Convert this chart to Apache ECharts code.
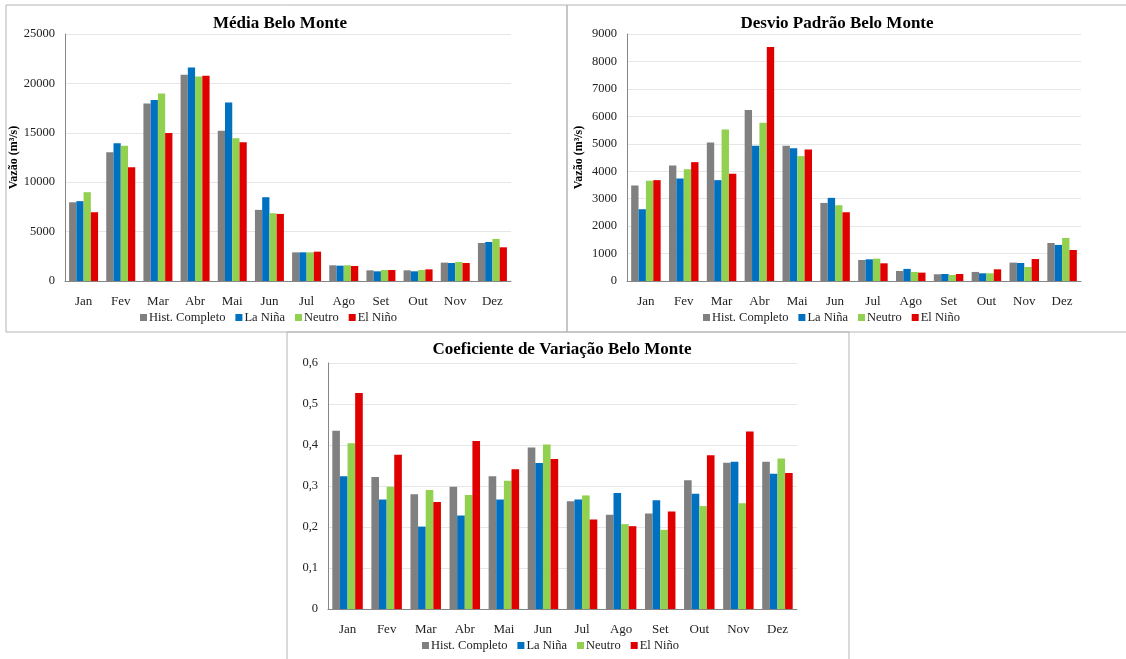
<!DOCTYPE html>
<html>
  <head>
    <meta charset="utf-8">
    <title>Belo Monte</title>
    <style type="text/css">
    html,body{margin:0;padding:0;background:#fff;}
    #chart{width:1126px;height:659px;}
    </style>
    <script src="https://cdn.jsdelivr.net/npm/echarts@6/dist/echarts.min.js"></script>
  </head>
  <body>
    <div id="chart"></div>
    <script type="text/javascript">
      var meses = ['Jan','Fev','Mar','Abr','Mai','Jun','Jul','Ago','Set','Out','Nov','Dez'];
      var nomes = ['Hist. Completo','La Niña','Neutro','El Niño'];
      var cores = ['#808080','#0070c0','#92d050','#e00000'];

      // Média (m³/s)
      var mediaHist   = [7970,13040,17970,20880,15200,7200,2900,1590,1080,1080,1860,3850];
      var mediaNina   = [8080,13950,18310,21620,18070,8480,2900,1550,980,980,1820,3950];
      var mediaNeutro = [8990,13680,18990,20710,14460,6860,2900,1590,1110,1110,1930,4260];
      var mediaNino   = [6960,11520,14970,20780,14050,6790,2970,1520,1110,1180,1820,3410];

      // Desvio padrão (m³/s)
      var dpHist   = [3480,4210,5050,6230,4930,2845,765,365,245,330,670,1385];
      var dpNina   = [2615,3735,3675,4930,4840,3030,790,440,255,280,655,1315];
      var dpNeutro = [3650,4075,5520,5765,4550,2760,815,330,220,280,510,1570];
      var dpNino   = [3675,4330,3905,8530,4790,2505,645,305,255,425,800,1130];

      // Coeficiente de variação
      var cvHist   = [0.435,0.322,0.280,0.298,0.324,0.394,0.263,0.230,0.233,0.314,0.357,0.359];
      var cvNina   = [0.324,0.267,0.201,0.228,0.267,0.356,0.267,0.283,0.265,0.281,0.359,0.330];
      var cvNeutro = [0.404,0.298,0.290,0.278,0.313,0.401,0.277,0.207,0.193,0.251,0.258,0.367];
      var cvNino   = [0.527,0.376,0.261,0.410,0.341,0.366,0.218,0.202,0.238,0.375,0.433,0.332];

      var fonte = "'Liberation Serif', 'Times New Roman', serif";
      var grupos = [
        [mediaHist, mediaNina, mediaNeutro, mediaNino],
        [dpHist, dpNina, dpNeutro, dpNino],
        [cvHist, cvNina, cvNeutro, cvNino]
      ];

      var series = [];
      for (var g = 0; g < 3; g++) {
        for (var s = 0; s < 4; s++) {
          series.push({
            name: nomes[s],
            type: 'bar',
            xAxisIndex: g,
            yAxisIndex: g,
            barGap: '0%',
            barCategoryGap: '22%',
            itemStyle: {color: cores[s]},
            data: grupos[g][s]
          });
        }
      }

      function eixoX(i) {
        return {
          type: 'category', gridIndex: i, data: meses,
          axisLine: {lineStyle: {color: '#868686'}},
          axisTick: {show: false},
          axisLabel: {color: '#222', fontFamily: fonte, fontSize: 13, margin: 14}
        };
      }
      function eixoY(i, max, intervalo, nome) {
        return {
          type: 'value', gridIndex: i, min: 0, max: max, interval: intervalo,
          name: nome, nameLocation: 'middle', nameGap: 42,
          nameTextStyle: {fontFamily: fonte, fontWeight: 'bold', fontSize: 12, color: '#000'},
          axisLine: {show: true, lineStyle: {color: '#868686'}},
          axisTick: {show: false},
          splitLine: {lineStyle: {color: '#e6e6e6'}},
          axisLabel: {
            color: '#222', fontFamily: fonte, fontSize: 12.5, margin: 10,
            formatter: function (v) { return String(v).replace('.', ','); }
          }
        };
      }
      function legenda(x, y) {
        return {
          left: x, top: y, data: nomes, itemWidth: 7, itemHeight: 7, itemGap: 10,
          icon: 'rect', selectedMode: false, padding: 0,
          textStyle: {fontFamily: fonte, fontSize: 12.5, color: '#222', padding: [0, 0, 0, -3]}
        };
      }
      var estiloTitulo = {fontFamily: fonte, fontWeight: 'bold', fontSize: 17, color: '#000'};

      var chart = echarts.init(document.getElementById('chart'));
      chart.setOption({
        animation: false,
        title: [
          {text: 'Média Belo Monte', left: 275, top: 10, textAlign: 'center', textStyle: estiloTitulo},
          {text: 'Desvio Padrão Belo Monte', left: 832, top: 10, textAlign: 'center', textStyle: estiloTitulo},
          {text: 'Coeficiente de Variação Belo Monte', left: 557, top: 336, textAlign: 'center', textStyle: estiloTitulo}
        ],
        legend: [legenda(140, 311), legenda(703, 311), legenda(422, 639)],
        grid: [
          {left: 65, top: 34, width: 446, height: 247},
          {left: 627, top: 34, width: 454, height: 247},
          {left: 328, top: 363, width: 469, height: 246}
        ],
        xAxis: [eixoX(0), eixoX(1), eixoX(2)],
        yAxis: [
          eixoY(0, 25000, 5000, 'Vazão (m³/s)'),
          eixoY(1, 9000, 1000, 'Vazão (m³/s)'),
          eixoY(2, 0.6, 0.1, '')
        ],
        graphic: [
          {type: 'rect', shape: {x: 6, y: 5, width: 561, height: 327}, style: {fill: null, stroke: '#b4b4b4', lineWidth: 1}},
          {type: 'rect', shape: {x: 567, y: 5, width: 570, height: 327}, style: {fill: null, stroke: '#b4b4b4', lineWidth: 1}},
          {type: 'rect', shape: {x: 287, y: 332, width: 562, height: 340}, style: {fill: null, stroke: '#b4b4b4', lineWidth: 1}}
        ],
        series: series
      });
    </script>
  </body>
</html>
